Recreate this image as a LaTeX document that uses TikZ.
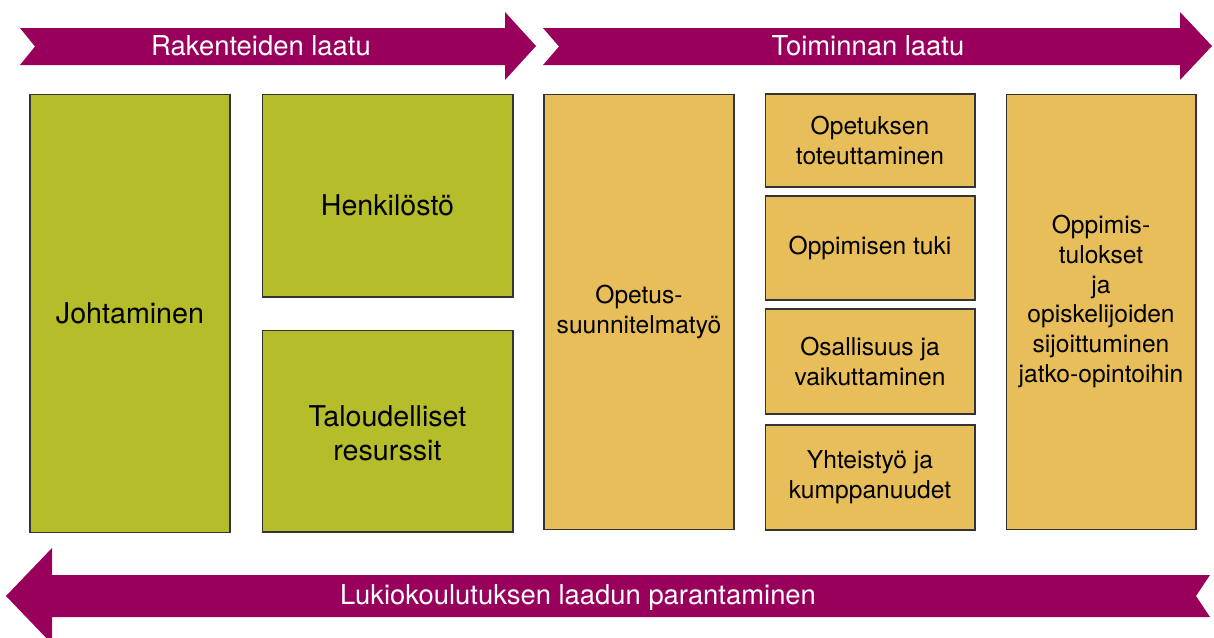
\documentclass[tikz,border=0pt]{standalone}
\usepackage{fontspec}
\setmainfont{TeX Gyre Heros}
\usepackage{tikz}
\usetikzlibrary{positioning,calc}
\definecolor{viini}{RGB}{153,0,92}
\definecolor{vihrea}{RGB}{181,189,43}
\definecolor{oranssi}{RGB}{232,190,90}
\tikzset{
	gbox/.style={rectangle,draw=black!80,line width=0.6pt,fill=vihrea,align=center,font=\fontsize{16.3}{19.5}\selectfont},
	obox/.style={rectangle,draw=black!80,line width=0.6pt,fill=oranssi,align=center,font=\fontsize{14}{17}\selectfont},
	atext/.style={text=white,inner sep=1pt,font=\fontsize{15.6}{18}\selectfont},
	band/.style={fill=viini}}

\begin{document}
\begin{tikzpicture}[x=0.02cm,y=-0.02cm]
	\useasboundingbox (0,0) rectangle (1214,637);
	\clip (0,0) rectangle (1214,637);
	% arrows
	\fill [band] (20,28) -- (505,28) -- (505,12) -- (536,46) -- (505,80) -- (505,65) -- (20,65) -- (35,46.5) -- cycle;
	\fill [band] (543,28) -- (1180,28) -- (1180,12) -- (1212,46) -- (1180,80) -- (1180,65) -- (543,65) -- (559,46.5) -- cycle;
	\fill [band] (1210,575) -- (52,575) -- (52,548) -- (6,596) -- (52,644) -- (52,617) -- (1210,617) -- (1196,596) -- cycle;
	\node (R) at (261,46) [atext] {Rakenteiden laatu};
	\node (T) at (868,46) [atext] {Toiminnan laatu};
	\node (L) at (578,597) [atext] {Lukiokoulutuksen laadun parantaminen};
	% boxes
	\node (J) at (130,313.5) [gbox,minimum width=4cm,minimum height=8.78cm] {Johtaminen};
	\node (H) at (387.5,195.5) [gbox,minimum width=5.02cm,minimum height=4.06cm] {\raisebox{-0.2cm}[\height][\depth]{Henkilöstö}};
	\node (Ta) at (387.5,431) [gbox,minimum width=5.02cm,minimum height=4.04cm] {\raisebox{-0.12cm}[\height][\depth]{\begin{tabular}{@{}c@{}}Taloudelliset\\resurssit\end{tabular}}};
	\node (O) at (639,312) [obox,minimum width=3.8cm,minimum height=8.72cm] {Opetus-\\suunnitelmatyö};
	\node (O1) at (870,140.5) [obox,minimum width=4.2cm,minimum height=1.86cm] {Opetuksen\\toteuttaminen};
	\node (O2) at (870,248) [obox,minimum width=4.2cm,minimum height=2.08cm] {Oppimisen tuki};
	\node (O3) at (870,361.5) [obox,minimum width=4.2cm,minimum height=2.1cm] {Osallisuus ja\\vaikuttaminen};
	\node (O4) at (870,477.5) [obox,minimum width=4.2cm,minimum height=2.1cm] {Yhteistyö ja\\kumppanuudet};
	\node (P) at (1101,312) [obox,minimum width=3.8cm,minimum height=8.72cm] {\raisebox{0.2cm}[\height][\depth]{\begin{tabular}{@{}c@{}}Oppimis-\\tulokset\\ja\\opiskelijoiden\\sijoittuminen\\jatko-opintoihin\end{tabular}}};
\end{tikzpicture}
\end{document}
